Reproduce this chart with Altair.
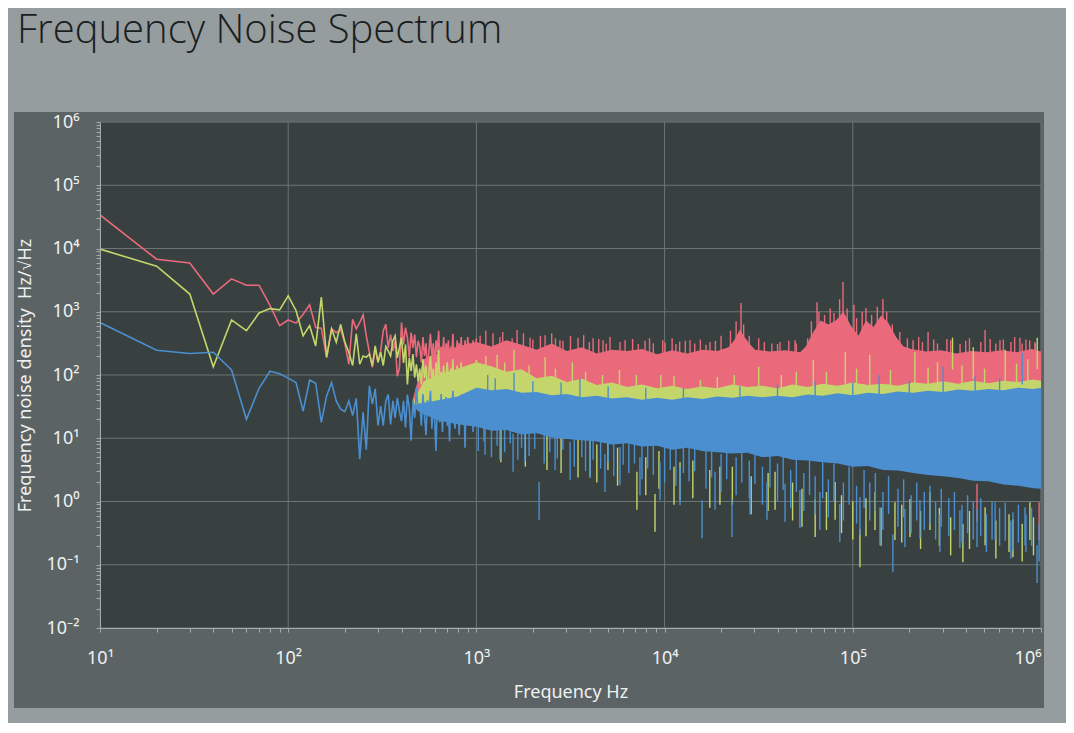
import json
import pandas as pd
import altair as alt

# ---- data (densities stored as decades: log10 of Hz/sqrt(Hz)) ----
# 10 Hz bins, 10 Hz .. 490 Hz
red_low = [4.53, 3.83, 3.77, 3.28, 3.52, 3.42, 3.42, 3.10, 2.78, 2.87,
           2.82, 2.96, 3.11, 2.75, 2.74, 2.28, 2.73, 2.67, 2.72, 2.50,
           2.17, 2.88, 2.73, 2.83, 2.95, 2.62, 2.36, 2.12, 2.41, 2.20,
           2.38, 2.70, 2.80,
           2.43, 2.64, 2.38, 2.54, 1.98, 2.11, 2.83, 2.48, 2.75, 2.59,
           2.28, 2.67, 2.43, 2.64, 2.28, 2.54]
yellow_low = [3.99, 3.72, 3.28, 2.13, 2.87, 2.70, 2.98, 3.05, 3.03, 3.25,
              3.02, 2.62, 2.78, 2.46, 3.23, 2.28, 2.73, 2.52, 2.80, 2.52,
              2.36, 2.15, 2.65, 2.17, 2.30, 2.28, 2.33, 2.15, 2.46, 2.20,
              2.36, 2.15, 2.45,
              2.38, 2.30, 2.54, 2.62, 2.27, 2.43, 2.59, 2.19, 2.48, 1.85,
              2.27, 2.06, 2.33, 1.96, 2.17, 1.90]
blue_low = [2.83, 2.39, 2.34, 2.36, 2.08, 1.30, 1.79, 2.06, 2.02, 1.95,
            1.88, 1.43, 1.92, 1.87, 1.25, 1.67, 1.88, 1.59, 1.46, 1.42,
            1.59, 1.36, 1.63, 0.67, 1.41, 0.82, 1.83, 1.54, 1.78, 1.20,
            1.51, 1.20, 1.59,
            1.69, 1.22, 1.59, 1.32, 1.64, 1.43, 1.27, 1.59, 1.17, 1.69,
            1.48, 0.96, 1.59, 1.32, 1.80, 1.43]

# 10 Hz bins, 500 Hz .. 1 kHz
red_mid = [2.45, 2.20, 2.60, 2.30, 2.50, 2.05, 2.40, 2.65, 2.25, 2.50,
           2.15, 2.55, 2.35, 2.70, 2.20, 2.45, 2.30, 2.60, 2.10, 2.50,
           2.35, 2.55, 2.00, 2.45, 2.30, 2.65, 2.25, 2.40, 2.15, 2.55,
           2.35, 2.50, 2.20, 2.60, 2.30, 2.45, 2.10, 2.55, 2.40, 2.25,
           2.60, 2.35, 2.50, 2.15, 2.45, 2.30, 2.55, 2.20, 2.50, 2.35,
           2.58]
yellow_mid = [2.10, 1.85, 2.25, 1.95, 2.15, 1.70, 2.05, 2.30, 1.90, 2.10,
              1.60, 2.20, 1.95, 2.40, 1.80, 2.05, 1.90, 2.15, 1.75, 2.00,
              2.20, 1.85, 1.50, 2.10, 1.95, 2.25, 1.80, 2.00, 1.70, 2.15,
              1.90, 2.05, 1.85, 2.20, 1.65, 2.00, 1.90, 2.10, 1.75, 1.95,
              2.15, 1.80, 2.05, 1.60, 1.95, 2.10, 1.85, 2.00, 1.70, 1.95,
              2.24]
blue_mid = [1.55, 1.20, 1.70, 1.35, 1.05, 1.60, 1.40, 1.75, 1.15, 1.50,
            1.30, 0.80, 1.60, 1.45, 1.25, 1.70, 1.10, 1.55, 1.35, 1.65,
            1.20, 1.50, 0.95, 1.60, 1.40, 1.75, 1.30, 1.15, 1.55, 1.45,
            1.65, 1.05, 1.50, 1.35, 1.70, 1.25, 1.60, 0.85, 1.45, 1.55,
            1.30, 1.70, 1.20, 1.50, 1.40, 1.65, 1.10, 1.55, 1.35, 1.60,
            1.48]

# above ~500 Hz the traces merge into dense bands (frequency in decades too)
red_band_logf = [2.66, 2.72, 2.80, 2.90,
                 3.00, 3.08, 3.16, 3.24, 3.32, 3.40, 3.48, 3.56, 3.64, 3.72,
                 3.80, 3.88, 3.96, 4.04, 4.12, 4.20, 4.28, 4.34, 4.37, 4.40,
                 4.42, 4.45, 4.48, 4.56, 4.64, 4.72, 4.75, 4.79, 4.83, 4.87,
                 4.91, 4.95, 4.99, 5.03, 5.07, 5.11, 5.15, 5.19, 5.23, 5.27,
                 5.31, 5.39, 5.47, 5.55, 5.63, 5.71, 5.79, 5.87, 5.95, 6.00]
red_band_top = [1.60, 2.25, 2.35, 2.45,
                2.52, 2.45, 2.55, 2.48, 2.40, 2.50, 2.38, 2.44, 2.34, 2.40,
                2.38, 2.41, 2.33, 2.39, 2.34, 2.40, 2.38, 2.44, 2.55, 2.72,
                2.62, 2.50, 2.40, 2.37, 2.39, 2.36, 2.45, 2.68, 2.86, 2.80,
                2.86, 3.00, 2.78, 2.62, 2.86, 2.76, 2.94, 2.82, 2.60, 2.45,
                2.41, 2.37, 2.39, 2.34, 2.38, 2.36, 2.39, 2.36, 2.41, 2.37]

band_logf = [2.66, 2.72, 2.80, 2.90,
             3.00, 3.08, 3.16, 3.24, 3.32, 3.40, 3.48, 3.56, 3.64, 3.72,
             3.80, 3.88, 3.96, 4.04, 4.12, 4.20, 4.28, 4.36, 4.44, 4.52,
             4.60, 4.68, 4.76, 4.84, 4.92, 5.00, 5.08, 5.16, 5.24, 5.32,
             5.40, 5.48, 5.56, 5.64, 5.72, 5.80, 5.88, 5.96, 6.00]
yellow_band_top = [1.55, 1.90, 2.00, 2.10,
                   2.20, 2.14, 2.05, 2.09, 1.95, 1.99, 1.89, 1.94, 1.84, 1.88,
                   1.81, 1.85, 1.79, 1.83, 1.78, 1.82, 1.79, 1.85, 1.81, 1.83,
                   1.79, 1.85, 1.81, 1.86, 1.83, 1.88, 1.84, 1.86, 1.83, 1.88,
                   1.86, 1.90, 1.86, 1.91, 1.87, 1.91, 1.89, 1.93, 1.91]
blue_band_top = [1.52, 1.56, 1.60, 1.66,
                 1.80, 1.76, 1.78, 1.72, 1.73, 1.68, 1.70, 1.65, 1.67, 1.63,
                 1.65, 1.61, 1.64, 1.61, 1.65, 1.62, 1.66, 1.64, 1.67, 1.65,
                 1.67, 1.65, 1.69, 1.67, 1.71, 1.68, 1.72, 1.70, 1.74, 1.72,
                 1.75, 1.73, 1.77, 1.75, 1.78, 1.76, 1.80, 1.78, 1.80]
blue_band_bot = [1.50, 1.38, 1.28, 1.22,
                 1.18, 1.12, 1.13, 1.06, 1.08, 1.01, 0.99, 0.97, 0.95, 0.90,
                 0.92, 0.87, 0.88, 0.82, 0.85, 0.80, 0.78, 0.76, 0.77, 0.70,
                 0.72, 0.66, 0.65, 0.62, 0.60, 0.55, 0.56, 0.50, 0.49, 0.45,
                 0.42, 0.40, 0.37, 0.33, 0.32, 0.27, 0.25, 0.21, 0.20]
# red and yellow bands continue under the blue one
hidden_floor = 1.5

# single spikes sticking out of the bands: (log10 f, tip in decades)
red_spikes = [(3.02, 2.62), (3.05, 2.70), (3.088, 2.66), (3.125, 2.60), (3.14, 2.68),
              (3.19, 2.58), (3.216, 2.71), (3.25, 2.66), (3.285, 2.59), (3.30, 2.56),
              (3.34, 2.62), (3.365, 2.63), (3.40, 2.66), (3.42, 2.58), (3.444, 2.55),
              (3.46, 2.54), (3.50, 2.62), (3.540, 2.59), (3.57, 2.63), (3.60, 2.52),
              (3.62, 2.58), (3.65, 2.57), (3.673, 2.55), (3.69, 2.50), (3.71, 2.60),
              (3.763, 2.52), (3.79, 2.55), (3.83, 2.57), (3.86, 2.49), (3.896, 2.54),
              (3.92, 2.58), (3.94, 2.50), (3.99, 2.55), (4.002, 2.51), (4.04, 2.58),
              (4.06, 2.49), (4.08, 2.53), (4.11, 2.54), (4.135, 2.55), (4.16, 2.50),
              (4.19, 2.56), (4.22, 2.48), (4.241, 2.52), (4.27, 2.54), (4.30, 2.62),
              (4.35, 2.70), (4.38, 2.85), (4.406, 3.14), (4.42, 2.80), (4.45, 2.62),
              (4.50, 2.58), (4.53, 2.52), (4.57, 2.50), (4.60, 2.49), (4.613, 2.52),
              (4.66, 2.54), (4.693, 2.55), (4.70, 2.50), (4.76, 2.58), (4.78, 2.85),
              (4.810, 3.15), (4.82, 3.00), (4.85, 2.95), (4.88, 3.05), (4.90, 2.98),
              (4.93, 3.20), (4.948, 3.47), (4.97, 3.05), (5.006, 3.11), (5.02, 2.90),
              (5.05, 3.00), (5.070, 3.06), (5.10, 2.95), (5.13, 3.08), (5.160, 3.20),
              (5.18, 3.00), (5.21, 2.80), (5.25, 2.68), (5.29, 2.58), (5.32, 2.55),
              (5.35, 2.60), (5.37, 2.52), (5.400, 2.68), (5.43, 2.56), (5.45, 2.50),
              (5.50, 2.57), (5.52, 2.55), (5.57, 2.49), (5.60, 2.54), (5.62, 2.58),
              (5.68, 2.52), (5.703, 2.71), (5.73, 2.57), (5.76, 2.50), (5.782, 2.55),
              (5.80, 2.56), (5.84, 2.52), (5.86, 2.60), (5.888, 2.59), (5.90, 2.50),
              (5.92, 2.56), (5.94, 2.55), (5.968, 2.52), (5.97, 2.49),
              (5.66, -0.32), (5.99, -0.61)]
yellow_spikes = [(3.05, 2.30), (3.11, 2.32), (3.15, 2.20), (3.20, 2.40), (3.28, 2.15),
                 (3.365, 2.28), (3.42, 2.10), (3.51, 2.20), (3.58, 2.05), (3.67, 2.00),
                 (3.76, 2.08), (3.85, 2.00), (3.98, 2.00), (4.05, 1.98), (4.19, 1.92),
                 (4.28, 1.97), (4.37, 2.00), (4.50, 2.13), (4.62, 2.00), (4.70, 2.05),
                 (4.79, 2.24), (4.86, 2.05), (4.96, 2.36), (5.02, 2.10), (5.09, 2.32),
                 (5.20, 2.08), (5.33, 2.36), (5.40, 2.12), (5.45, 2.20), (5.53, 2.59),
                 (5.58, 2.15), (5.64, 2.44), (5.70, 2.10), (5.81, 2.40), (5.87, 2.18),
                 (5.93, 2.25), (5.98, 2.59),
                 (3.13, 0.62), (3.26, 0.55), (3.375, 0.50), (3.45, 0.45), (3.54, 0.38),
                 (3.604, 0.39), (3.64, 0.30), (3.699, 0.50), (3.75, 0.25), (3.853, -0.13),
                 (3.90, 0.10), (3.949, -0.48), (3.97, 0.20), (4.05, -0.05), (4.082, 0.02),
                 (4.15, 0.05), (4.24, -0.10), (4.294, -0.05), (4.36, -0.05), (4.46, -0.20),
                 (4.55, -0.15), (4.587, -0.13), (4.68, -0.30), (4.73, -0.40), (4.800, -0.56),
                 (4.86, -0.45), (4.906, -0.29), (4.94, -0.50), (5.00, -0.60), (5.038, -1.04),
                 (5.07, -0.55), (5.118, -0.45), (5.15, -0.70), (5.224, -0.61), (5.26, -0.65),
                 (5.304, -0.56), (5.36, -0.75), (5.410, -0.45), (5.46, -0.70), (5.52, -0.85),
                 (5.585, -0.96), (5.62, -0.75), (5.703, -0.69), (5.76, -0.90), (5.83, -0.80),
                 (5.851, -0.88), (5.90, -0.95), (5.941, -0.61), (5.96, -0.85)]
blue_spikes = [(3.06, 2.00), (3.10, 1.95), (3.20, 2.03), (3.30, 1.90), (3.45, 1.88),
               (3.55, 1.95), (3.70, 1.82), (3.90, 1.80), (4.10, 1.80), (4.40, 1.82),
               (4.60, 1.85), (4.80, 1.90), (5.00, 1.88), (5.14, 2.00), (5.30, 1.92),
               (5.48, 2.13), (5.65, 1.98), (5.78, 1.95), (5.90, 2.35),
               (3.01, 0.80), (3.04, 0.95), (3.046, 0.74), (3.08, 0.70), (3.11, 0.88),
               (3.125, 0.66), (3.15, 0.78), (3.18, 0.92), (3.195, 0.47), (3.22, 0.66),
               (3.24, 0.85), (3.258, 0.63), (3.28, 0.72), (3.31, 0.83), (3.333, -0.29),
               (3.36, 0.60), (3.39, 0.78), (3.418, 0.50), (3.43, 0.68), (3.46, 0.82),
               (3.498, 0.34), (3.52, 0.55), (3.56, 0.70), (3.58, 0.48), (3.604, 0.37),
               (3.62, 0.66), (3.66, 0.52), (3.683, 0.15), (3.70, 0.62), (3.73, 0.40),
               (3.763, 0.26), (3.78, 0.58), (3.81, 0.45), (3.84, 0.60), (3.869, 0.10),
               (3.88, 0.35), (3.91, 0.52), (3.94, 0.42), (3.976, 0.02), (4.00, 0.30),
               (4.03, 0.50), (4.06, 0.25), (4.082, -0.06), (4.10, 0.45), (4.13, 0.32),
               (4.16, 0.48), (4.199, -0.58), (4.22, 0.20), (4.25, 0.38), (4.268, -0.13),
               (4.30, 0.15), (4.33, 0.35), (4.358, -0.56), (4.38, 0.10), (4.41, 0.30),
               (4.45, 0.05), (4.454, -0.21), (4.48, 0.28), (4.52, -0.05), (4.544, -0.29),
               (4.56, 0.22), (4.60, 0.00), (4.63, 0.18), (4.640, -0.32), (4.67, -0.10),
               (4.70, 0.15), (4.719, -0.42), (4.74, -0.15), (4.77, 0.10), (4.80, -0.20),
               (4.825, -0.45), (4.84, 0.05), (4.87, -0.25), (4.90, 0.00), (4.931, -0.64),
               (4.95, -0.30), (4.98, -0.05), (5.02, -0.35), (5.038, -0.53), (5.06, -0.10),
               (5.09, -0.30), (5.12, -0.15), (5.144, -0.69), (5.16, -0.45), (5.19, -0.20),
               (5.213, -1.12), (5.24, -0.40), (5.27, -0.25), (5.277, -0.72), (5.31, -0.50),
               (5.34, -0.30), (5.357, -0.58), (5.38, -0.45), (5.41, -0.35), (5.44, -0.60),
               (5.463, -0.80), (5.47, -0.40), (5.51, -0.55), (5.54, -0.45), (5.569, -0.74),
               (5.58, -0.65), (5.61, -0.50), (5.64, -0.60), (5.660, -0.72), (5.68, -0.55),
               (5.71, -0.80), (5.74, -0.60), (5.756, -0.61), (5.78, -0.70), (5.81, -0.62),
               (5.84, -0.90), (5.851, -0.77), (5.88, -0.65), (5.915, -0.69), (5.92, -0.80),
               (5.95, -0.70), (5.979, -1.29), (5.99, -0.95)]

series_colors = {"red": "#ea6a7c", "yellow": "#c4d66b", "blue": "#4b8fd0"}
superscripts = ["⁻²", "⁻¹", "⁰", "¹", "²", "³", "⁴", "⁵", "⁶"]
x_decades = [10, 100, 1000, 10000, 100000, 1000000]
y_decades = [0.01, 0.1, 1, 10, 100, 1000, 10000, 100000, 1000000]

W, H = 941, 506
PAGE, PANEL, PLOT = "#959d9e", "#5b6364", "#384040"
TXT, GRID, AXIS = "#eef1f1", "#6c7575", "#a4abab"
FONT = "Noto Sans"


def low_frame(low, mid):
    vals = low + mid
    return pd.DataFrame({"f": [10 * (i + 1) for i in range(len(vals))],
                         "v": [10 ** e for e in vals]})


def spike_frame(spikes):
    # each spike runs from inside its band out to the tip
    rows = []
    for lf, tip in spikes:
        base = tip - 0.5 if tip > 1.5 else tip + 0.6
        rows.append({"f": 10 ** lf, "tip": 10 ** tip, "base": 10 ** base})
    return pd.DataFrame(rows)


red_band = pd.DataFrame({"f": [10 ** x for x in red_band_logf],
                         "top": [10 ** x for x in red_band_top],
                         "bot": 10 ** hidden_floor})
yel_band = pd.DataFrame({"f": [10 ** x for x in band_logf],
                         "top": [10 ** x for x in yellow_band_top],
                         "bot": 10 ** hidden_floor})
blue_band = pd.DataFrame({"f": [10 ** x for x in band_logf],
                          "top": [10 ** x for x in blue_band_top],
                          "bot": [10 ** x for x in blue_band_bot]})

# ---- axes ----
is_power = "abs(log(datum.value)/LN10 - round(log(datum.value)/LN10)) < 1e-6"
label_expr = (f"{is_power} ? '10' + {json.dumps(superscripts, ensure_ascii=False)}"
              f"[round(log(datum.value)/LN10) + 2] : ''")
y_ticks = [m * d for d in y_decades[:-1] for m in range(1, 10)] + [y_decades[-1]]
x_ticks = [m * d for d in x_decades[:-1] for m in range(1, 10)] + [x_decades[-1]]

xscale = alt.Scale(type="log", domain=[10, 1e6], nice=False)
yscale = alt.Scale(type="log", domain=[0.01, 1e6], nice=False)

axis_style = dict(grid=False, zindex=1, labelExpr=label_expr, labelColor=TXT,
                  labelFont=FONT, labelFontSize=18, labelOverlap=False,
                  domainColor=AXIS, tickColor=AXIS, titleColor=TXT,
                  titleFont=FONT, titleFontSize=18, titleFontWeight="normal")
xaxis = alt.Axis(title="Frequency Hz", values=x_ticks, tickSize=4, labelPadding=17,
                 titlePadding=16, labelFlush=False,
                 labelAlign={"condition": {"test": "datum.value >= 999999", "value": "right"},
                             "value": "center"},
                 **axis_style)
yaxis = alt.Axis(title="Frequency noise density\u00a0 Hz/√Hz", values=y_ticks, tickSize=4,
                 labelPadding=17, titlePadding=12, labelFlush=False, **axis_style)


def X(field):
    return alt.X(field, type="quantitative", scale=xscale, axis=xaxis)


def Y(field):
    return alt.Y(field, type="quantitative", scale=yscale, axis=yaxis)


# ---- background panel and plot area ----
panel = alt.Chart(pd.DataFrame({"a": [0]})).mark_rect(color=PANEL, clip=False).encode(
    x=alt.value(-86), x2=alt.value(W + 3), y=alt.value(-10), y2=alt.value(H + 80))
plot_bg = alt.Chart(pd.DataFrame({"x0": [10], "x1": [1e6], "y0": [0.01], "y1": [1e6]})).mark_rect(
    color=PLOT).encode(x=X("x0"), x2="x1", y=Y("y0"), y2="y1")
grid_x = alt.Chart(pd.DataFrame({"g": x_decades})).mark_rule(color=GRID, strokeWidth=1).encode(x=X("g"))
grid_y = alt.Chart(pd.DataFrame({"g": y_decades})).mark_rule(color=GRID, strokeWidth=1).encode(y=Y("g"))

layers = [panel, plot_bg, grid_x, grid_y]
for name, low, mid, band, spikes in [
    ("red", red_low, red_mid, red_band, red_spikes),
    ("yellow", yellow_low, yellow_mid, yel_band, yellow_spikes),
    ("blue", blue_low, blue_mid, blue_band, blue_spikes),
]:
    c = series_colors[name]
    layers.append(alt.Chart(low_frame(low, mid)).mark_line(
        color=c, strokeWidth=1.6, clip=True).encode(x=X("f"), y=Y("v")))
    layers.append(alt.Chart(band).mark_area(color=c, opacity=1, clip=True).encode(
        x=X("f"), y=Y("top"), y2="bot"))
    layers.append(alt.Chart(spike_frame(spikes)).mark_rule(
        color=c, strokeWidth=1.4, clip=True).encode(x=X("f"), y=Y("tip"), y2="base"))

chart = alt.layer(*layers).properties(
    width=W, height=H,
    title=alt.TitleParams("Frequency Noise Spectrum", anchor="start", frame="group",
                          font="Open Sans", fontWeight=300, fontSize=40, color="#1b1e1e",
                          baseline="alphabetic", dx=-83, offset=29),
    autosize=alt.AutoSizeParams(type="none"),
    padding={"left": 92, "top": 114, "right": 25, "bottom": 95},
    background=PAGE,
).configure_view(stroke=None)

chart.save("out.html", embed_options={"renderer": "svg", "actions": False})
